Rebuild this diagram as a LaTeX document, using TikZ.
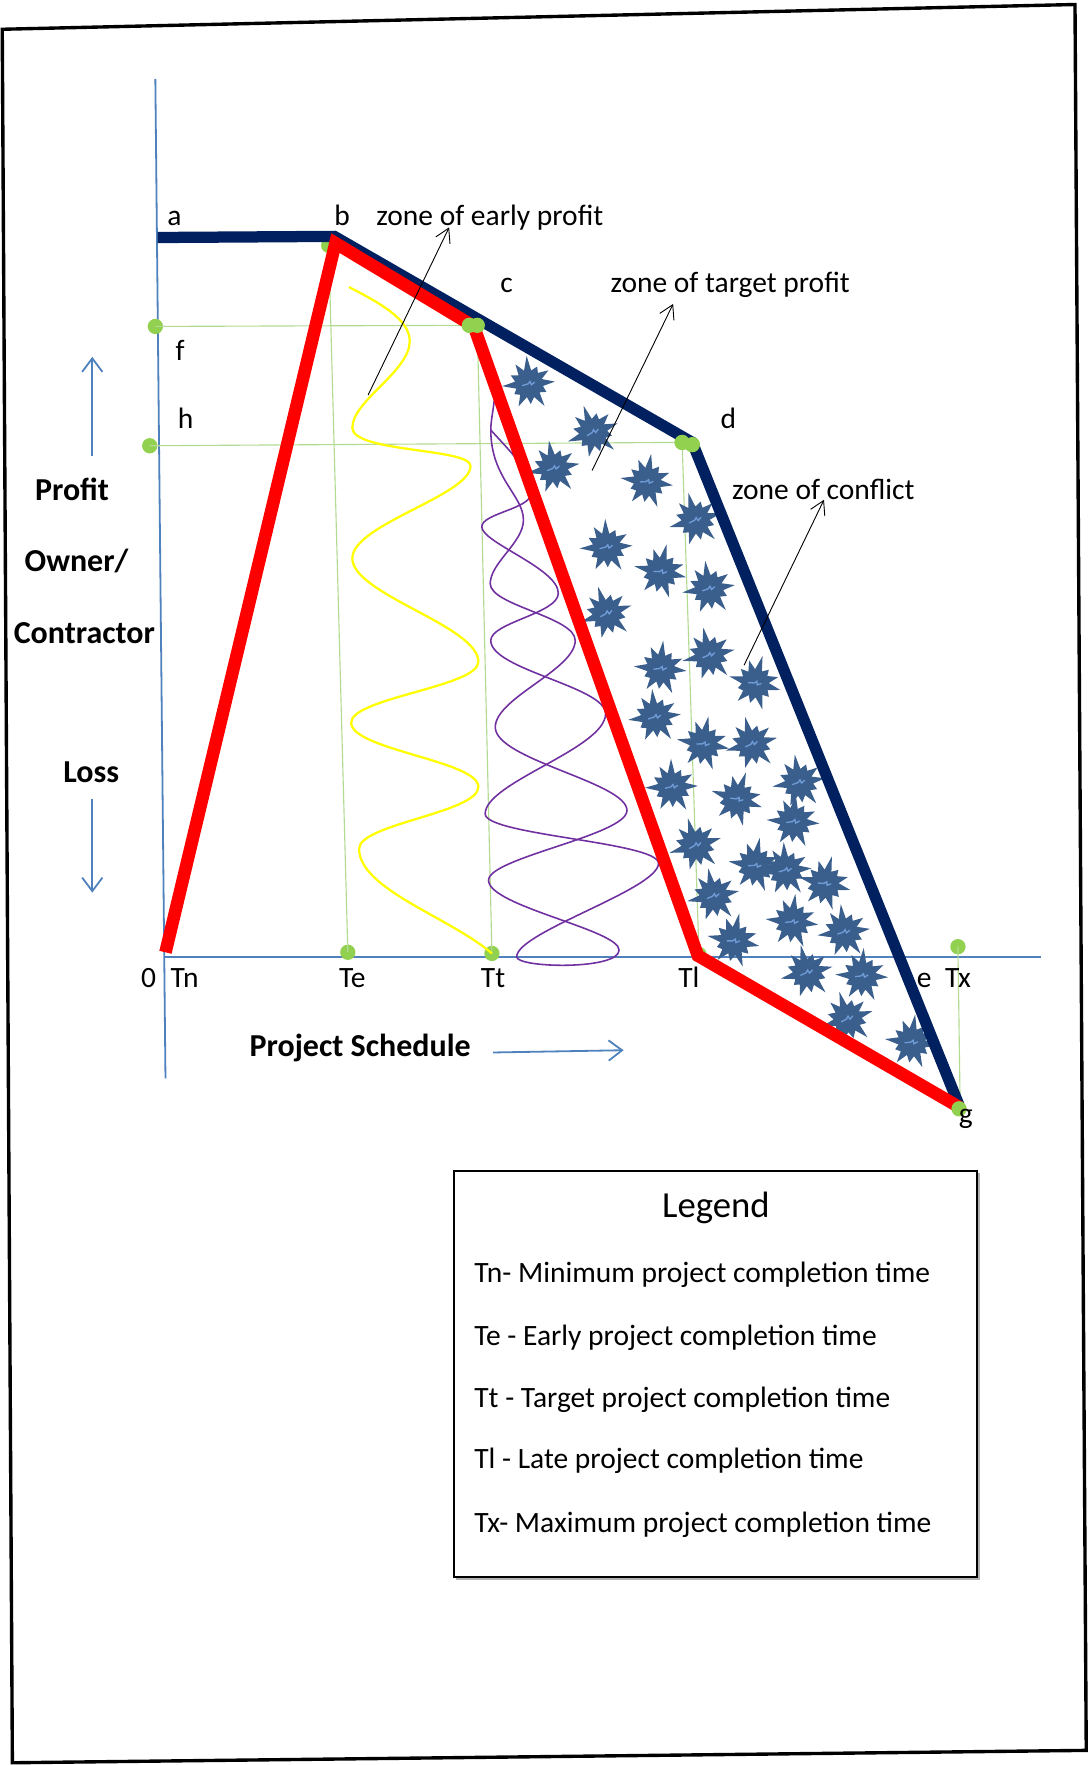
\documentclass[tikz,border=0pt]{standalone}
\usepackage{fontspec}
\setmainfont{Carlito}
\usetikzlibrary{arrows.meta,shapes.geometric}
\definecolor{navyl}{HTML}{002060}
\definecolor{redl}{HTML}{FF0000}
\definecolor{dotg}{HTML}{92D050}
\definecolor{guidel}{HTML}{B3DA93}
\definecolor{axisb}{HTML}{4F81BD}
\definecolor{starb}{HTML}{3A5F8D}
\definecolor{starl}{HTML}{6F9BD6}
\definecolor{purp}{HTML}{7030A0}
\definecolor{yel}{HTML}{FFFF00}
\begin{document}
\begin{tikzpicture}[x=0.5pt,y=-0.5pt,
  lbl/.style={font=\fontsize{13.1}{15}\selectfont, inner sep=0pt, anchor=base},
  lblw/.style={lbl, anchor=base west},
  blbl/.style={font=\fontsize{14.2}{16}\selectfont\bfseries, inner sep=0pt, anchor=base},
  gdot/.style={circle, fill=dotg, inner sep=0pt, minimum size=6.8pt},
  guide/.style={guidel, line width=0.5pt},
  axisline/.style={axisb, line width=0.8pt},
  bluearrow/.style={axisb, line width=0.8pt, -{Straight Barb[length=6pt,width=9pt]}},
  notearrow/.style={black, line width=0.4pt, -{Straight Barb[length=6pt,width=7pt]}},
  thicknavy/.style={navyl, line width=5pt},
  thickred/.style={redl, line width=5.6pt},
  wave/.style={line width=0.8pt},
  explo/.pic={
    \fill[starb] (0:23) -- (14:12.5) -- (30:17) -- (44:12) -- (60:24) -- (74:12.5) -- (90:18)
      -- (104:12) -- (120:22) -- (134:12.5) -- (150:16) -- (164:12) -- (180:24) -- (194:12.5)
      -- (210:18) -- (224:12) -- (240:21) -- (254:12.5) -- (270:25) -- (284:12) -- (300:17)
      -- (314:12.5) -- (330:21) -- (344:12) -- cycle;
    \draw[starl, line width=0.6pt, line cap=round] (-6,1) -- (-1,0) -- (1,-2) -- (2,1) -- (5,-1);
  }
]
\useasboundingbox (0,0) rectangle (967,1568);

% outer frame
\draw[line width=1.5pt] (2,26) -- (955,4) -- (965,1555) -- (11,1566) -- cycle;

% axes
\coordinate (yTop) at (138,70);
\coordinate (yBot) at (147,958);
\coordinate (xL) at (147,850);
\coordinate (xR) at (925,850);
\draw[axisline] (yTop) -- (yBot);
\draw[axisline, line width=1pt] (xL) -- (xR);

% key points
\coordinate (a) at (140,211);
\coordinate (b) at (297,210);
\coordinate (d) at (615,393);
\coordinate (g) at (852,982);
\coordinate (tn) at (147,846);
\coordinate (br) at (298,216);
\coordinate (cr) at (421,290);
\coordinate (tlr) at (620,849);
\coordinate (gr) at (853,984);

% dots (lower ones)
\node[gdot] (bdot) at (292,218) {};
\node[gdot] (fdot) at (138,290) {};
\node[gdot] (hdot) at (133,396) {};
\node[gdot] (cdotA) at (417,289) {};
\node[gdot] (cdotB) at (424,289) {};
\node[gdot] (ddotA) at (606,393) {};
\node[gdot] (ddotB) at (615,395) {};
\node[gdot] (tedot) at (309,846) {};
\node[gdot] (ttdot) at (437,847) {};
\node[gdot] (tldot) at (621,848) {};
\node[gdot] (txdot) at (851,841) {};

% guide lines
\draw[guide] (fdot.center) -- (cdotA.center);
\draw[guide] (hdot.center) -- (ddotA.center);
\draw[guide] (bdot.center) -- (tedot.center);
\draw[guide] (cdotB.center) -- (ttdot.center);
\draw[guide] (ddotA.center) -- (tldot.center);
\draw[guide] (txdot.center) -- (gr);

% yellow wave
\draw[wave, yel, line width=1pt] (310,255) .. controls (335,268) and (364,283) .. (364,303)
  .. controls (364,330) and (313,356) .. (313,380)
  .. controls (313,402) and (418,398) .. (418,414)
  .. controls (418,440) and (313,466) .. (313,496)
  .. controls (313,528) and (425,556) .. (425,588)
  .. controls (425,610) and (312,620) .. (312,642)
  .. controls (312,666) and (425,676) .. (425,699)
  .. controls (425,722) and (319,732) .. (319,754)
  .. controls (319,790) and (400,815) .. (ttdot.center);

% purple waves
\draw[wave, purp, line width=0.7pt] (439,356) .. controls (438,366) and (436,374) .. (436,382)
  .. controls (452,400) and (472,418) .. (472,438)
  .. controls (472,452) and (428,456) .. (428,468)
  .. controls (428,482) and (496,505) .. (496,527)
  .. controls (496,545) and (436,553) .. (436,569)
  .. controls (436,595) and (538,610) .. (538,634)
  .. controls (538,665) and (431,695) .. (431,723)
  .. controls (431,742) and (585,748) .. (585,767)
  .. controls (585,790) and (459,828) .. (459,850)
  .. controls (459,860) and (550,862) .. (550,844);
\draw[wave, purp, line width=0.7pt] (436,382) .. controls (436,425) and (465,440) .. (465,462)
  .. controls (465,482) and (435.5,500) .. (435.5,518.5)
  .. controls (435.5,538) and (511,548) .. (511,569)
  .. controls (511,595) and (440,620) .. (440,646)
  .. controls (440,675) and (557,695) .. (557,720)
  .. controls (557,742) and (434,762) .. (434,782)
  .. controls (434,805) and (550,826) .. (550,844);

% stars (zone of conflict)
\foreach \sx/\sy/\r in {470/341/5, 527/384/20, 492/416/10, 575/428/-8, 618/462/15,
  539/486/3, 587/508/-12, 630/523/8, 539/545/18, 587/594/-5, 630/582/12, 671/607/-15,
  582/637/6, 625/661/-10, 668/661/14, 597/699/2, 655/710/-18, 710/695/9, 705/730/-4,
  618/751/16, 671/769/-9, 698/773/4, 733/785/-14, 634/796/11, 704/819/-6, 750/828/7,
  652/836/-11, 717/864/13, 766/867/-3, 753/905/17, 810/926/-7}
  \pic[rotate=\r] at (\sx,\sy) {explo};

% thick lines
\draw[thicknavy] (a) -- (b) -- (d) -- (g);
\draw[thickred] (tn) -- (br) -- (cr) -- (tlr) -- (gr);

% dots on top
\node[gdot] at (cdotA) {};
\node[gdot] at (cdotB) {};
\node[gdot] at (ddotA) {};
\node[gdot] at (ddotB) {};
\node[gdot] (gdotn) at (852,985) {};

% annotation arrows
\coordinate (eA) at (327,351);  \coordinate (eB) at (399,202);
\coordinate (tA) at (526,418);  \coordinate (tB) at (598,270);
\coordinate (kA) at (661,591);  \coordinate (kB) at (732,444);
\draw[notearrow] (eA) -- (eB);
\draw[notearrow] (tA) -- (tB);
\draw[notearrow] (kA) -- (kB);

% blue arrows
\coordinate (upA) at (82,405);   \coordinate (upB) at (82,317);
\coordinate (dnA) at (82,710);   \coordinate (dnB) at (82,793);
\coordinate (psA) at (438,935);  \coordinate (psB) at (554,933);
\draw[bluearrow] (upA) -- (upB);
\draw[bluearrow] (dnA) -- (dnB);
\draw[bluearrow] (psA) -- (psB);

% labels
\node[lbl] (la) at (155,200) {a};
\node[lbl] (lb) at (304,200) {b};
\node[lblw] (lzep) at (334,200) {zone of early profit};
\node[lbl] (lc) at (450,260) {c};
\node[lblw] (lztp) at (542,260) {zone of target profit};
\node[lbl] (lf) at (160,320) {f};
\node[lbl] (lh) at (165,381) {h};
\node[lbl] (ld) at (647,381) {d};
\node[lblw] (lzc) at (650,444) {zone of conflict};
\node[lbl] (l0) at (132,877) {0};
\node[lbl] (lTn) at (164,877) {Tn};
\node[lbl] (lTe) at (313,877) {Te};
\node[lbl] (lTt) at (438,877) {Tt};
\node[lbl] (lTl) at (612,877) {Tl};
\node[lbl] (le) at (821,877) {e};
\node[lbl] (lTx) at (851,877) {Tx};
\node[lbl] (lg) at (858,998) {g};

\node[blbl] (lprofit) at (64,445) {Profit};
\node[blbl] (lowner) at (68,508) {Owner/};
\node[blbl] (lcontr) at (75,572) {Contractor};
\node[blbl] (lloss) at (81,695) {Loss};
\node[blbl] (lps) at (320,939) {Project Schedule};

% legend
\draw[gray!60, line width=1pt] (405,1403) -- (870,1403) -- (870,1042);
\draw[line width=0.9pt] (403,1040) rectangle (868,1401);
\node[font=\fontsize{16.3}{18}\selectfont, inner sep=0pt, anchor=base] (legt) at (636,1082) {Legend};
\node[lblw] (lg1) at (421,1139) {Tn- Minimum project completion time};
\node[lblw] (lg2) at (421,1195) {Te - Early project completion time};
\node[lblw] (lg3) at (421,1250) {Tt - Target project completion time};
\node[lblw] (lg4) at (421,1305) {Tl - Late project completion time};
\node[lblw] (lg5) at (421,1361) {Tx- Maximum project completion time};
\end{tikzpicture}
\end{document}
